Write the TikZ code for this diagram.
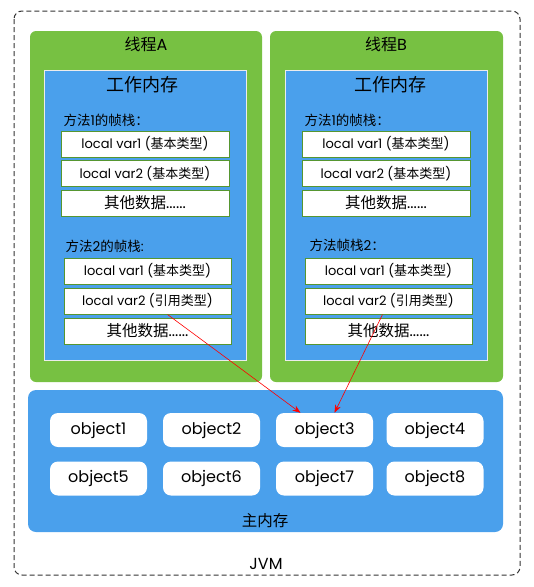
\documentclass[tikz,border=0pt]{standalone}
\usepackage{fontspec}
\setmainfont{Poppins}
\newfontfamily\cjk{Noto Sans CJK SC}
\usetikzlibrary{arrows,arrows.meta,shapes,positioning}
\definecolor{thgreen}{RGB}{119,193,66}
\definecolor{memblue}{RGB}{74,160,236}
\definecolor{boxline}{RGB}{86,150,48}
\tikzstyle{thread} = [fill=thgreen, rounded corners=6pt]
\tikzstyle{workmem} = [fill=memblue, draw=white!85!gray, line width=1pt]
\tikzstyle{slot} = [draw=boxline, fill=white, line width=1pt, minimum height=26pt, inner sep=0pt, font=\fontsize{13}{13}\selectfont]
\tikzstyle{other} = [slot, font=\fontsize{15.5}{15.5}\selectfont]
\tikzstyle{obj} = [fill=white, rounded corners=8pt, minimum width=97pt, minimum height=34pt, inner sep=0pt, font=\fontsize{16}{16}\selectfont]
\tikzstyle{ref} = [semithin,-{Stealth[length=8pt,width=6pt]},color=red]
\tikzset{semithin/.style={line width=0.6pt}}

\begin{document}
\begin{tikzpicture}[x=1pt, y=-1pt]
\useasboundingbox (0,0) rectangle (534,587);
% JVM
\draw[dash pattern=on 5pt off 3pt, line width=1pt, black!80, rounded corners=8pt] (14,11) rectangle (520,575);
\node (jvm) at (266,564) {\fontsize{16}{16}\selectfont JVM};

% Threads
\fill[thread] (30,31) rectangle (262,382);
\fill[thread] (270,31) rectangle (503,382);
\node (tha) at (146,44) {\fontsize{16}{16}\selectfont{\cjk 线程}A};
\node (thb) at (386,44) {\fontsize{16}{16}\selectfont{\cjk 线程}B};

% Working memory
\draw[workmem] (44,70) rectangle (246,360);
\draw[workmem] (285,70) rectangle (487,360);
\node (wma) at (142,85) {\fontsize{18}{18}\selectfont\cjk 工作内存};
\node (wmb) at (390,85) {\fontsize{18}{18}\selectfont\cjk 工作内存};

% Thread A frames
\node[anchor=west] (fa1) at (60,120) {\fontsize{13.5}{13.5}\selectfont{\cjk 方法}1{\cjk 的帧栈：}};
\node[slot, minimum width=168pt] (a1v1) at (145,144) {local var1 ({\cjk 基本类型})};
\node[slot, minimum width=168pt] (a1v2) at (145,173.5) {local var2 ({\cjk 基本类型})};
\node[other, minimum width=168pt] (a1o) at (145,203) {{\cjk 其他数据}......};
\node[anchor=west] (fa2) at (62,246) {\fontsize{13.5}{13.5}\selectfont{\cjk 方法}2{\cjk 的帧栈}:};
\node[slot, minimum width=167pt] (a2v1) at (147.5,271) {local var1 ({\cjk 基本类型})};
\node[slot, minimum width=167pt] (a2v2) at (147.5,301) {local var2 ({\cjk 引用类型})};
\node[other, minimum width=167pt] (a2o) at (147.5,331) {{\cjk 其他数据}......};

% Thread B frames
\node[anchor=west] (fb1) at (301,120) {\fontsize{13.5}{13.5}\selectfont{\cjk 方法}1{\cjk 的帧栈：}};
\node[slot, minimum width=168pt] (b1v1) at (386,144) {local var1 ({\cjk 基本类型})};
\node[slot, minimum width=168pt] (b1v2) at (386,173.5) {local var2 ({\cjk 基本类型})};
\node[other, minimum width=168pt] (b1o) at (386,203) {{\cjk 其他数据}......};
\node[anchor=west] (fb2) at (306,245) {\fontsize{13.5}{13.5}\selectfont{\cjk 方法帧栈}2{\cjk ：}};
\node[slot, minimum width=167pt] (b2v1) at (388.5,271) {local var1 ({\cjk 基本类型})};
\node[slot, minimum width=167pt] (b2v2) at (388.5,301) {local var2 ({\cjk 引用类型})};
\node[other, minimum width=167pt] (b2o) at (388.5,331) {{\cjk 其他数据}......};

% Main memory
\fill[memblue, rounded corners=8pt] (28,390) rectangle (503,532);
\node (main) at (265,521) {\fontsize{15.5}{15.5}\selectfont\cjk 主内存};
\node[obj] (o1) at (98.5,430) {object1};
\node[obj] (o2) at (211.5,430) {object2};
\node[obj] (o3) at (324.5,430) {object3};
\node[obj] (o4) at (435,430) {object4};
\node[obj] (o5) at (98.5,478.5) {object5};
\node[obj] (o6) at (211.5,478.5) {object6};
\node[obj] (o7) at (324.5,478.5) {object7};
\node[obj] (o8) at (435,478.5) {object8};

% References
\draw[ref] ([xshift=20pt]a2v2.south) -- ([xshift=-24pt]o3.north);
\draw[ref] ([xshift=-6pt]b2v2.south) -- ([xshift=10pt]o3.north);
\end{tikzpicture}
\end{document}
